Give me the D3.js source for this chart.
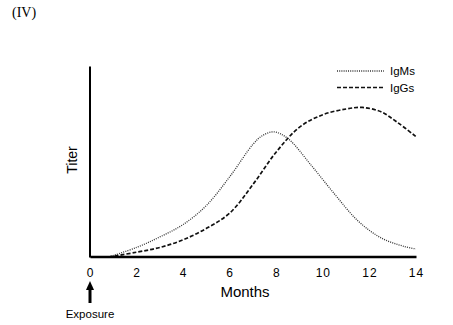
<!DOCTYPE html>
<html><head><meta charset="utf-8">
<script src="https://cdn.jsdelivr.net/npm/d3@7"></script>
<style>body{margin:0;background:#fff}svg{display:block}text{font-family:"Liberation Sans",Arial,sans-serif}</style>
</head><body>
<script>
const months = [0.8, 2, 3, 4, 5, 6, 7, 7.4, 7.9, 8.5, 9.5, 10.5, 11.5, 12.5, 13.5, 14];
const igM    = [0, 5, 10.5, 17, 27, 42, 59, 63.5, 65.5, 62, 48, 33, 19, 10, 5.5, 4.2];
const monthsG = [0.8, 2, 3, 4, 5, 6, 7, 8, 9, 10, 11, 11.7, 12.5, 13.2, 14];
const igG     = [0, 2.5, 5, 9, 15, 23, 38, 55, 68, 74.5, 77.5, 78.3, 76, 70.5, 63];
const xTicks = [0, 2, 4, 6, 8, 10, 12, 14];
const seriesNames = ["IgMs", "IgGs"];

const W = 453, H = 325;
const svg = d3.select("body").append("svg").attr("width", W).attr("height", H);
svg.append("rect").attr("width", W).attr("height", H).attr("fill", "#fff");

const x = d3.scaleLinear().domain([0, 14]).range([90, 416]);
const y = d3.scaleLinear().domain([0, 100]).range([257, 66]);

svg.append("text").attr("x", 12).attr("y", 16.5)
  .style("font-family", "'Liberation Serif', 'Times New Roman', serif").attr("font-size", 14).text("(IV)");

const line = d3.line().x(d => x(d[0])).y(d => y(d[1])).curve(d3.curveCatmullRom.alpha(0.5));

svg.append("path").datum(months.map((m, i) => [m, igM[i]]))
  .attr("d", line).attr("fill", "none").attr("stroke", "#333").attr("stroke-width", 1.3)
  .attr("stroke-dasharray", "1,1.2");
svg.append("path").datum(monthsG.map((m, i) => [m, igG[i]]))
  .attr("d", line).attr("fill", "none").attr("stroke", "#111").attr("stroke-width", 1.7)
  .attr("stroke-dasharray", "4,2");

const xa = svg.append("g").attr("transform", "translate(0,256.5)")
  .call(d3.axisBottom(x).tickValues(xTicks).tickSize(0).tickSizeOuter(0).tickPadding(11.5).tickFormat(d3.format("d")));
xa.select(".domain").attr("stroke", "#000").attr("stroke-width", 2.5);
xa.selectAll("text").attr("font-size", 12).attr("fill", "#000").attr("letter-spacing", 1)
  .style("font-family", "'Liberation Sans', Arial, sans-serif");

const ya = svg.append("g").attr("transform", "translate(89.5,0)")
  .call(d3.axisLeft(y).tickValues([]).tickSize(0).tickSizeOuter(0));
ya.select(".domain").attr("stroke", "#000").attr("stroke-width", 2);

svg.append("text").attr("x", 245).attr("y", 297).attr("text-anchor", "middle")
  .attr("font-size", 15).text("Months");
svg.append("text").attr("transform", "translate(77,160) rotate(-90)").attr("text-anchor", "middle")
  .attr("font-size", 14).text("Titer");

// Exposure arrow
svg.append("line").attr("x1", x(0)).attr("x2", x(0)).attr("y1", 288).attr("y2", 303)
  .attr("stroke", "#000").attr("stroke-width", 3);
svg.append("path").attr("d", `M${x(0)-4},290 L${x(0)},281 L${x(0)+4},290 Z`).attr("fill", "#000");
svg.append("text").attr("x", x(0)).attr("y", 317.5).attr("text-anchor", "middle")
  .attr("font-size", 11.5).text("Exposure");

// Legend
const leg = svg.append("g");
const styles = [{dash: "1,1.2", w: 1.3, c: "#333"}, {dash: "4,2", w: 1.7, c: "#111"}];
seriesNames.forEach((n, i) => {
  const yy = 71 + i * 16.5;
  leg.append("line").attr("x1", 337).attr("x2", 384).attr("y1", yy).attr("y2", yy)
    .attr("stroke", styles[i].c).attr("stroke-width", styles[i].w).attr("stroke-dasharray", styles[i].dash);
  leg.append("text").attr("x", 390).attr("y", yy + 4).attr("font-size", 11.5).text(n);
});
</script>
</body></html>
